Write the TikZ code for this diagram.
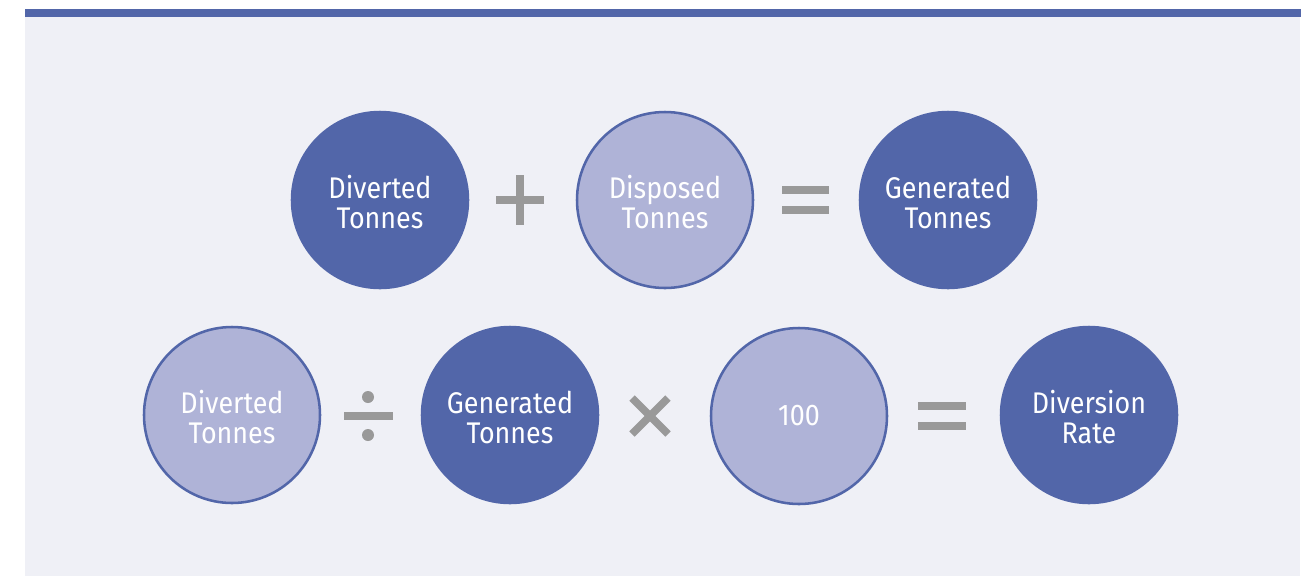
\documentclass[tikz,border=0pt]{standalone}
\usepackage{fontspec}
\setmainfont{Fira Sans}[FakeStretch=0.9]
\usepackage{tikz}
\usetikzlibrary{positioning}

\definecolor{ratedark}{HTML}{5266A9}
\definecolor{ratelight}{HTML}{AFB3D7}
\definecolor{panelbg}{HTML}{EFF0F6}
\definecolor{signgray}{HTML}{999999}

\tikzset{
  darkball/.style={circle, fill=ratedark, draw=ratedark, line width=1.9pt, minimum size=132pt, inner sep=0pt,
    text=white, align=center, font=\fontsize{22.4}{22}\selectfont},
  lightball/.style={darkball, fill=ratelight},
  twolines/.style={text height=42pt, text depth=0pt},
  signbar/.style={draw=signgray, line width=5.6pt},
}

\begin{document}
\begin{tikzpicture}[x=0.75pt, y=-0.75pt]
\useasboundingbox (0,0) rectangle (1307,576);
% panel and top rule
\fill[panelbg] (25,16) rectangle (1300,576);
\fill[ratedark] (25,9) rectangle (1301,17);

% first line: diverted + disposed = generated
\node[darkball, twolines] (div1) at (380,200) {Diverted\\Tonnes};
\node[lightball, twolines] (disp) at (665,200) {Disposed\\Tonnes};
\node[darkball, twolines] (gen1) at (948,200) {Generated\\Tonnes};
\draw[signbar] (496,200) -- (544,200);
\draw[signbar] (520,175) -- (520,225);
\draw[signbar] (782,190) -- (829,190);
\draw[signbar] (782,210) -- (829,210);

% second line: diverted / generated x 100 = rate
\node[lightball, twolines] (div2) at (232,415) {Diverted\\Tonnes};
\node[darkball, twolines] (gen2) at (510,415) {Generated\\Tonnes};
\node[lightball] (hund) at (799,416) {100};
\node[darkball, twolines] (rate) at (1089,415) {Diversion\\Rate};
\draw[signbar] (344,416) -- (393,416);
\fill[signgray] (368,397) circle (6);
\fill[signgray] (368,435) circle (6);
\draw[signbar] (632,398) -- (668,434);
\draw[signbar] (632,434) -- (668,398);
\draw[signbar] (918,406) -- (966,406);
\draw[signbar] (918,426) -- (966,426);

\end{tikzpicture}
\end{document}
